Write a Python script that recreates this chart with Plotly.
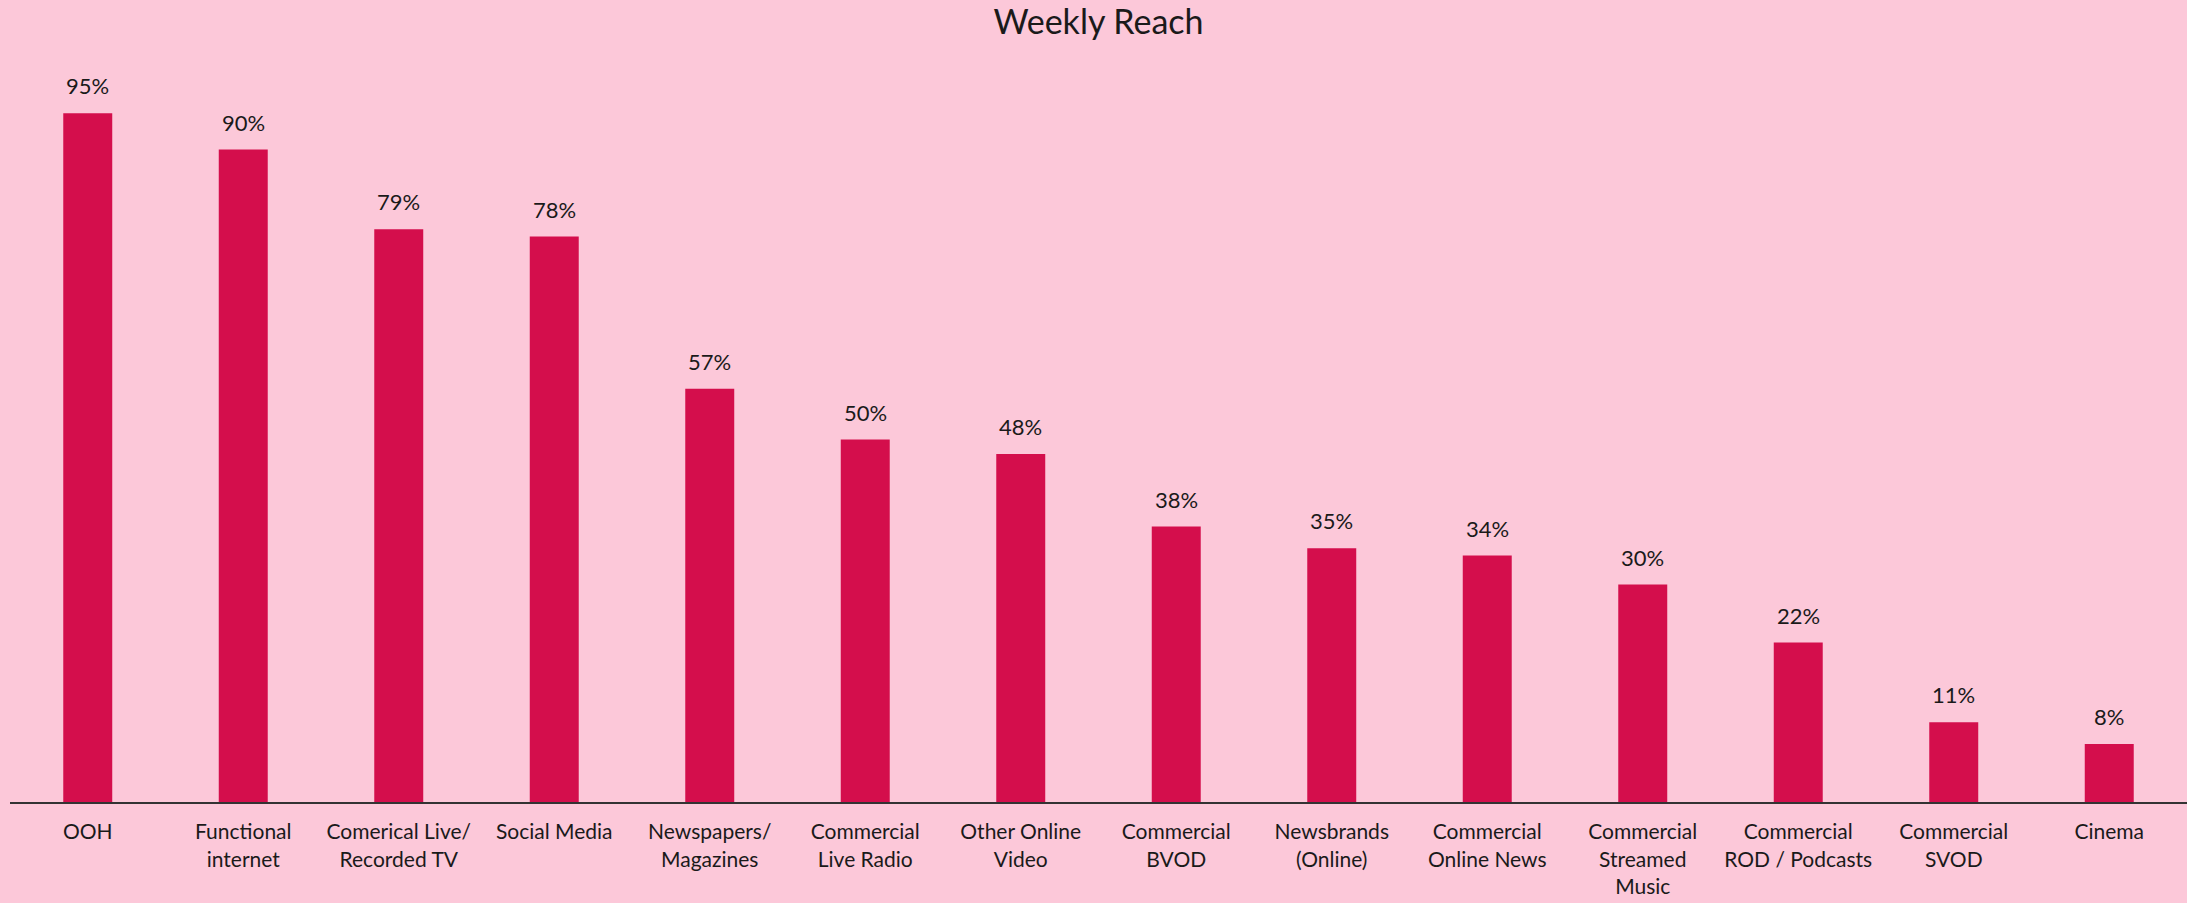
import plotly.graph_objects as go

categories = [
    "OOH", "Functional<br>internet", "Comerical Live/<br>Recorded TV", "Social Media",
    "Newspapers/<br>Magazines", "Commercial<br>Live Radio", "Other Online<br>Video",
    "Commercial<br>BVOD", "Newsbrands<br>(Online)", "Commercial<br>Online News",
    "Commercial<br>Streamed<br>Music", "Commercial<br>ROD / Podcasts", "Commercial<br>SVOD", "Cinema",
]
values = [0.95, 0.90, 0.79, 0.78, 0.57, 0.50, 0.48, 0.38, 0.35, 0.34, 0.30, 0.22, 0.11, 0.08]

BG = "#FCC8D9"
BAR = "#D40E4C"
FONT = "Lato"

fig = go.Figure()
fig.add_trace(go.Bar(
    x=categories, y=values,
    marker=dict(color=BAR, line=dict(width=0)),
    hoverinfo="skip",
))

for c, v in zip(categories, values):
    fig.add_annotation(
        x=c, y=v, text=f"{round(v*100)}%", showarrow=False,
        xref="x", yref="y", yanchor="bottom", yshift=12,
        font=dict(family=FONT, size=22, color="#1a1a1a"),
    )

fig.update_layout(
    width=2187, height=903,
    paper_bgcolor=BG, plot_bgcolor=BG,
    margin=dict(l=10, r=0, t=77, b=101),
    bargap=0.685,
    showlegend=False,
    title=dict(text="Weekly Reach", x=0.5, xref="paper", xanchor="center",
               y=0.975, yanchor="middle", yref="container",
               font=dict(family=FONT, size=34, color="#1a1a1a")),
    font=dict(family=FONT, color="#1a1a1a"),
    xaxis=dict(
        showline=True, linecolor="#333333", linewidth=2,
        showgrid=False, ticks="", tickfont=dict(family=FONT, size=21, color="#1a1a1a"),
        tickangle=0, fixedrange=True, ticklabelstandoff=10,
    ),
    yaxis=dict(
        range=[0, 1], visible=False, showgrid=False, zeroline=False, fixedrange=True,
    ),
)

fig.write_html(
    "out.html",
    config={"displayModeBar": False},
    post_script="document.body.style.margin='0';document.body.style.background='" + BG + "';",
)
